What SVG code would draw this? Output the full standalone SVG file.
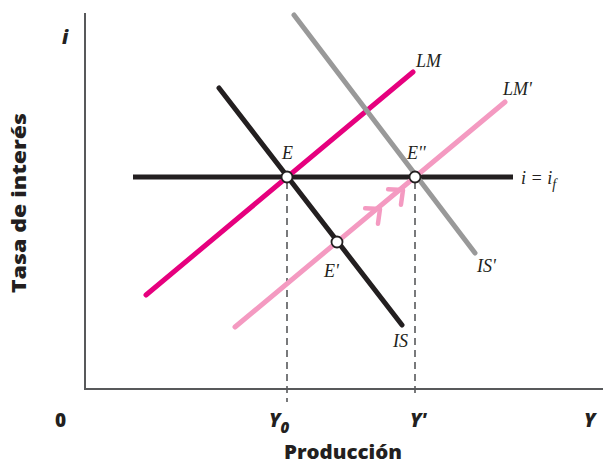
<svg xmlns="http://www.w3.org/2000/svg" width="603" height="465" viewBox="0 0 603 465">
<style>
.curve{fill:none;stroke-width:5;stroke-linecap:round}
.axis{fill:none;stroke:#58595b;stroke-width:2}
.dash{fill:none;stroke:#58595b;stroke-width:1.6;stroke-dasharray:7,5}
.pt{fill:#fff;stroke:#231f20;stroke-width:1.8}
.lbl{font-family:"Liberation Serif",serif;font-style:italic;font-size:18px;fill:#231f20}
.ax{font-family:"Open Sans","Liberation Sans",sans-serif;font-weight:800;font-size:19px;fill:#231f20}
.axi{font-family:"Open Sans","Liberation Sans",sans-serif;font-weight:800;font-style:italic;font-size:19px;fill:#231f20}
.chev{fill:none;stroke:#f49ac1;stroke-width:4.5;stroke-linecap:round;stroke-linejoin:round}
</style>
<g id="axes">
<line class="axis" x1="85" y1="13" x2="85" y2="389"/>
<line class="axis" x1="84" y1="389" x2="603" y2="389"/>
</g>
<g id="connectors">
<line class="dash" x1="287" y1="182" x2="287" y2="402"/>
<line class="dash" x1="415" y1="182" x2="415" y2="394"/>
<line id="if" class="curve" stroke="#231f20" x1="133" y1="177" x2="513" y2="177" style="stroke-linecap:butt"/>
<line id="LM" class="curve" stroke="#e6007e" x1="146" y1="295" x2="413" y2="72"/>
<line id="LMp" class="curve" stroke="#f49ac1" x1="235" y1="327" x2="505" y2="102"/>
<line id="ISp" class="curve" stroke="#999999" x1="294" y1="15" x2="475" y2="253"/>
<line id="IS" class="curve" stroke="#231f20" x1="219" y1="88" x2="402" y2="325"/>
<g id="chevrons">
<path class="chev" d="M-11,-10 L0,0 L-11,10" transform="translate(380,209) rotate(-39.8)"/>
<path class="chev" d="M-11,-10 L0,0 L-11,10" transform="translate(403,190) rotate(-39.8)"/>
</g>
</g>
<g id="E"><circle class="pt" cx="287" cy="177" r="5.5"/><text class="lbl" x="282" y="159">E</text></g>
<g id="Ep"><circle class="pt" cx="337" cy="242" r="5.5"/><text class="lbl" x="324" y="277">E'</text></g>
<g id="Epp"><circle class="pt" cx="415" cy="177" r="5.5"/><text class="lbl" x="407" y="159">E''</text></g>
<g id="labels">
<text class="lbl" x="416" y="67">LM</text>
<text class="lbl" x="503" y="95">LM'</text>
<text class="lbl" x="393" y="347">IS</text>
<text class="lbl" x="477" y="272">IS'</text>
<text class="lbl" x="521" y="184">i = i<tspan font-size="14" dy="5">f</tspan></text>
<text class="axi" x="62" y="44">i</text>
<text class="ax" x="55" y="427">0</text>
<text class="axi" x="269" y="427">Y<tspan font-size="15" dy="6">0</tspan></text>
<text class="axi" x="410" y="427">Y'</text>
<text class="axi" x="584" y="427">Y</text>
<text class="ax" x="343" y="459" text-anchor="middle" textLength="118" lengthAdjust="spacingAndGlyphs">Producción</text>
<text class="ax" transform="translate(26,203) rotate(-90)" text-anchor="middle" textLength="180" lengthAdjust="spacingAndGlyphs">Tasa de interés</text>
</g>
</svg>
